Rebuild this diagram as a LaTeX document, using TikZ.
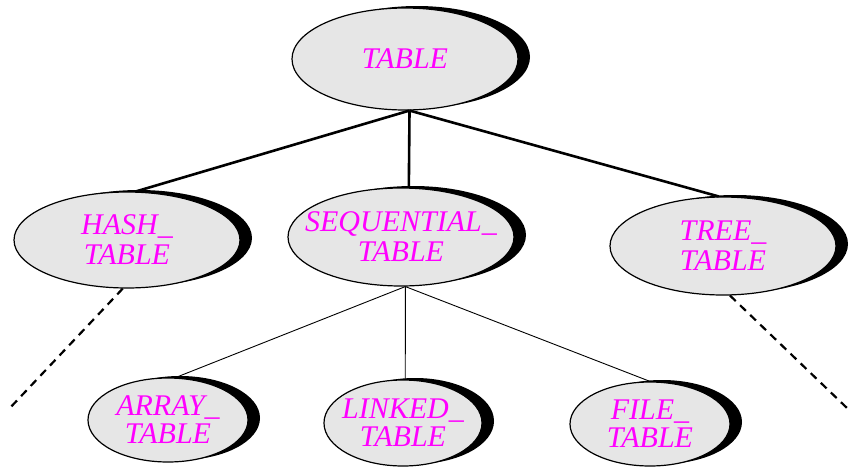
\documentclass[tikz,border=0pt]{standalone}
\usepackage{fontspec}
\setmainfont{Liberation Serif}
\usetikzlibrary{shapes.geometric,shadows}
\definecolor{nodefill}{HTML}{E6E6E6}
\definecolor{labelpink}{HTML}{FF00FF}
\begin{document}
\begin{tikzpicture}[x=1pt,y=-1pt,
  classbox/.style={ellipse, draw=black, line width=1.2pt, fill=nodefill,
    inner xsep=-60pt, inner ysep=-30pt,
    drop shadow={shadow xshift=12pt, shadow yshift=2pt, fill=black, opacity=1},
    text=labelpink, align=center, font=\itshape\fontsize{30}{30}\selectfont},
  bigbox/.style={classbox, minimum width=226pt, minimum height=98pt},
  smallbox/.style={classbox, minimum width=160pt, minimum height=84pt, font=\itshape\fontsize{30}{28}\selectfont},
  thickedge/.style={line width=2.6pt},
  thinedge/.style={line width=0.9pt},
  dashededge/.style={line width=2.2pt, dash pattern=on 8pt off 6pt}]
\useasboundingbox (0,0) rectangle (849,469);
\node[bigbox, minimum height=102pt] (table) at (405,59) {TABLE};
\node[bigbox, minimum height=96pt] (hash) at (127,240) {HASH\_\\TABLE};
\node[bigbox] (seq) at (401,237) {SEQUENTIAL\_\\TABLE};
\node[bigbox] (tree) at (723,246) {TREE\_\\TABLE};
\node[smallbox] (array) at (168,420) {ARRAY\_\\TABLE};
\node[smallbox, minimum width=158pt, minimum height=86pt] (linked) at (403,423) {LINKED\_\\TABLE};
\node[smallbox] (file) at (650,424) {FILE\_\\TABLE};
\coordinate (hashend) at (8,410);
\coordinate (treeend) at (847,408);
\draw[thickedge] (table.-85) -- (hash.80);
\draw[thickedge] (table.-85) -- (seq.81);
\draw[thickedge] (table.-85) -- (tree.95);
\draw[thinedge] (seq.-85) -- (array.80);
\draw[thinedge] (seq.-85) -- (linked.87);
\draw[thinedge] (seq.-85) -- (file.north);
\draw[dashededge] (hash.-95) -- (hashend);
\draw[dashededge] (tree.-82) -- (treeend);
\end{tikzpicture}
\end{document}
